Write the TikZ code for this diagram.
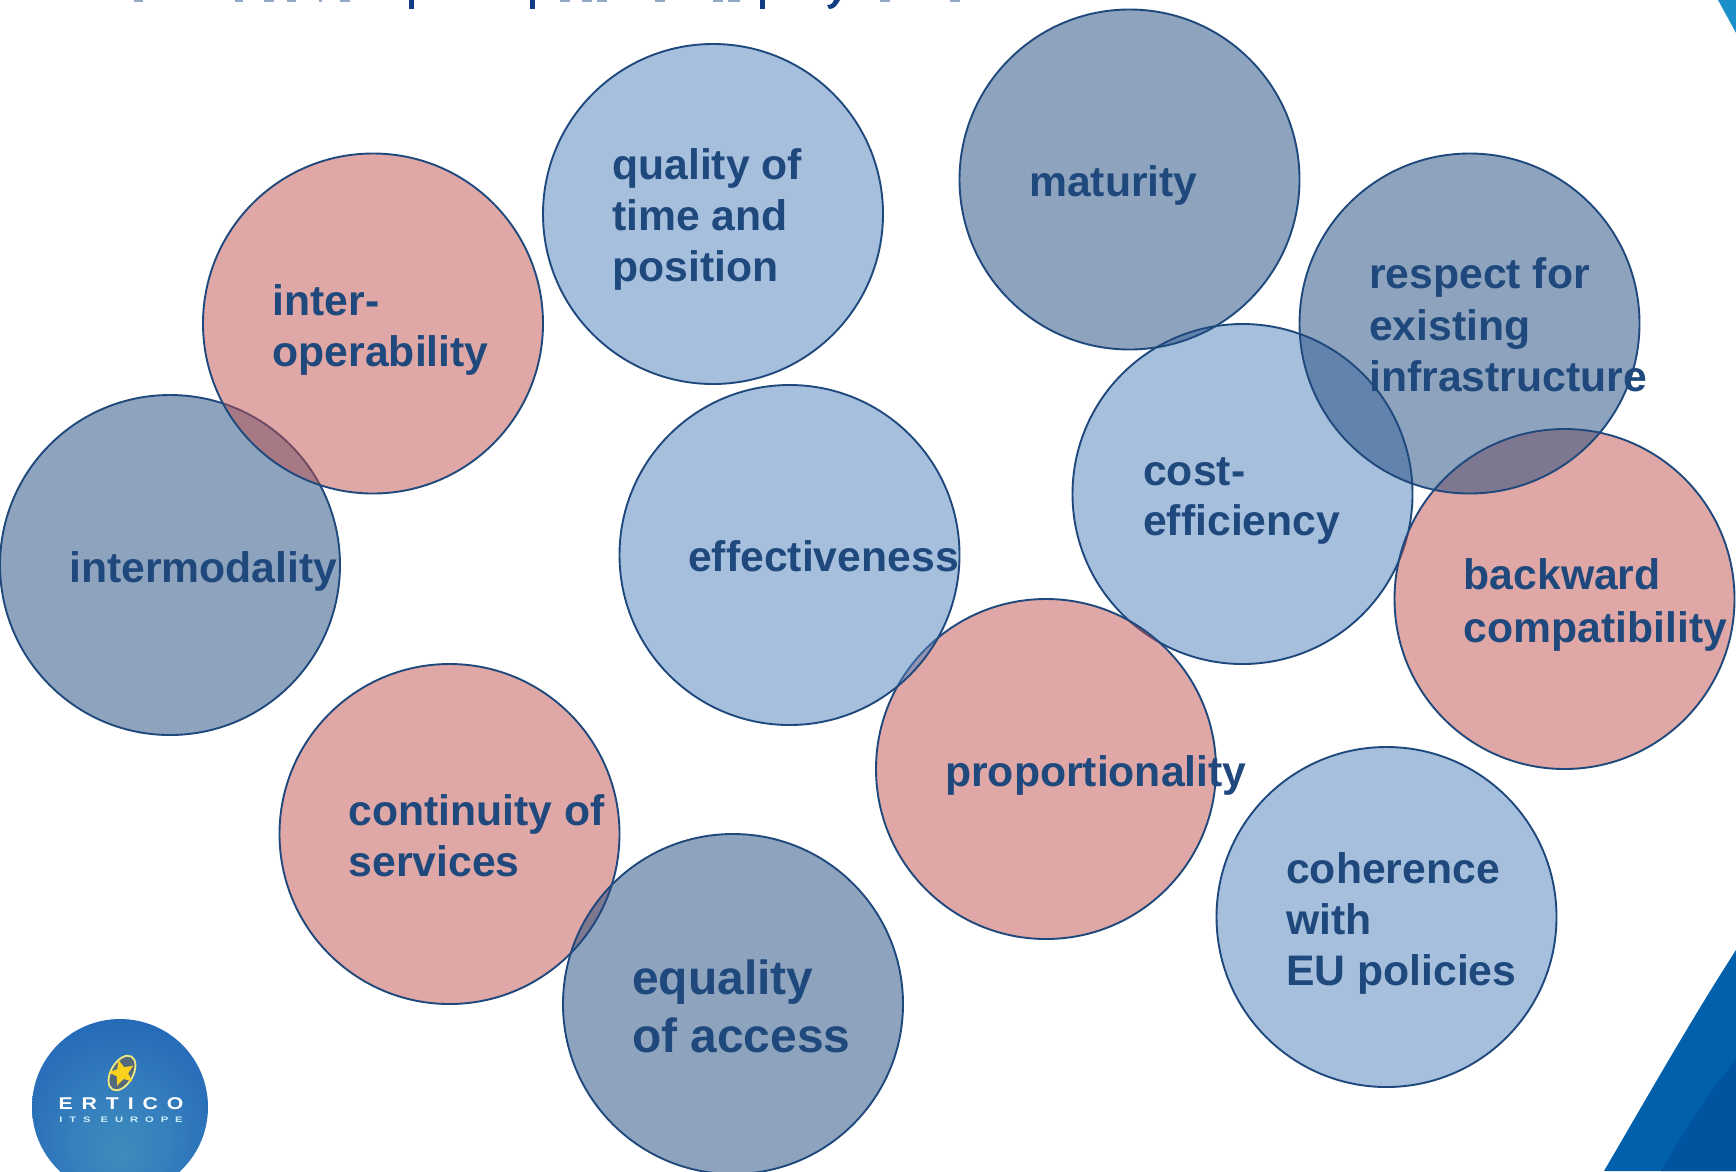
\documentclass[tikz,border=0pt]{standalone}
\usepackage{fontspec}
\setmainfont{Liberation Sans}
\newfontfamily\logofont[LetterSpace=42]{Liberation Sans}
\newfontfamily\logosmall[LetterSpace=62]{Liberation Sans}
\usetikzlibrary{shapes.geometric}
\definecolor{inkblue}{HTML}{1F497D}
\definecolor{lightfill}{HTML}{4F81BD}
\definecolor{rosefill}{HTML}{C0504D}
\definecolor{steelfill}{HTML}{1F497D}
\definecolor{cuttext}{HTML}{0F3C82}
\pgfdeclareradialshading{logoshade}{\pgfpoint{0bp}{-14bp}}{
  rgb(0bp)=(0.24,0.55,0.74);
  rgb(14bp)=(0.21,0.50,0.74);
  rgb(30bp)=(0.15,0.42,0.72);
  rgb(50bp)=(0.04,0.34,0.66)}
\tikzset{
  disc/.style={circle,draw=inkblue,line width=1.9pt,minimum size=340pt,inner sep=0pt,fill opacity=.5,draw opacity=1},
  lightdisc/.style={disc,fill=lightfill},
  rosedisc/.style={disc,fill=rosefill},
  steeldisc/.style={disc,fill=steelfill},
  lab/.style={anchor=base west,inner sep=0pt,text=inkblue,font=\fontsize{42.7}{51}\selectfont\bfseries},
  biglab/.style={lab,font=\fontsize{47.9}{58}\selectfont\bfseries},
  stub/.style={fill=cuttext},
  stubfaint/.style={fill=cuttext!45}
}
\begin{document}
\begin{tikzpicture}[x=1pt,y=-1pt]
\useasboundingbox (0,0) rectangle (1736,1171);
\clip (0,0) rectangle (1736,1171);
% slide background corners
\fill[fill=white] (0,0) rectangle (1736,1171);
\fill[fill={rgb,255:red,0;green,96;blue,172}] (1736,950) .. controls (1692,1018) and (1642,1106) .. (1604,1171) -- (1736,1171) -- cycle;
\fill[fill={rgb,255:red,0;green,83;blue,159}] (1736,1060) .. controls (1710,1090) and (1685,1130) .. (1661,1171) -- (1736,1171) -- cycle;
\fill[fill={rgb,255:red,27;green,143;blue,200}] (1718,0) -- (1736,33) -- (1736,0) -- cycle;
% cut-off title line: only the feet of its letters are in the picture
\fill[stub] (409,0) rectangle (414,9);
\fill[stub] (530,0) rectangle (535,9);
\fill[stub] (760,0) rectangle (765,9);
\fill[stub] (829,9) .. controls (835,9) and (837,5) .. (840,0) -- (834,0) .. controls (832,4) and (831,5) .. (827,5) -- cycle;
\foreach \a/\b in {134/143,235/243,264/274,287/296,319/322,340/350,560/570,582/592,597/607,655/665,713/723,728/740,880/890,950/960}
  \fill[stubfaint] (\a,0) rectangle (\b,1.8);
% discs and their labels, back to front
\node[steeldisc] (intermod) at (170,565) {};
\node[lab] (intermodT) at (69,582) {intermodality};
\node[rosedisc] (inter) at (373,323.5) {};
\node[lab] (interA) at (272.5,315) {inter-};
\node[lab] (interB) at (272.5,366) {operability};
\node[lightdisc] (quality) at (713,214) {};
\node[lab] (qualityA) at (612,179) {quality of};
\node[lab] (qualityB) at (612,230) {time and};
\node[lab] (qualityC) at (612,281) {position};
\node[rosedisc] (contin) at (449.5,834) {};
\node[lab] (continA) at (348.5,825) {continuity of};
\node[lab] (continB) at (348.5,876) {services};
\node[steeldisc] (equal) at (733,1004) {};
\node[biglab] (equalA) at (632,994) {equality};
\node[biglab] (equalB) at (632,1052) {of access};
\node[lightdisc] (cost) at (1242.5,494) {};
\node[lab] (costA) at (1143,485) {cost-};
\node[lab] (costB) at (1143,535.5) {efficiency};
\node[rosedisc] (prop) at (1046,769) {};
\node[lab] (propT) at (945,786) {proportionality};
\node[lightdisc] (effect) at (789.5,555) {};
\node[lab] (effectT) at (688,571) {effectiveness};
\node[rosedisc] (back) at (1564.5,599) {};
\node[lab] (backA) at (1463.5,589) {backward};
\node[lab] (backB) at (1463.5,642) {compatibility};
\node[steeldisc] (respect) at (1469.5,323.5) {};
\node[lab] (respectA) at (1369,288) {respect for};
\node[lab] (respectB) at (1369,340) {existing};
\node[lab] (respectC) at (1369,391) {infrastructure};
\node[steeldisc] (matur) at (1129.5,179.5) {};
\node[lab] (maturT) at (1029,196) {maturity};
\node[lightdisc] (coher) at (1386.5,917) {};
\node[lab] (coherA) at (1286,883) {coherence};
\node[lab] (coherB) at (1286,934) {with};
\node[lab] (coherC) at (1286,985) {EU policies};
% logo
\shade[shading=logoshade] (120,1107) circle[radius=88];
\node[ellipse,draw={rgb,255:red,240;green,235;blue,130},line width=1.8pt,fill={rgb,255:red,85;green,105;blue,125},minimum width=38pt,minimum height=22pt,inner sep=0pt,rotate=60] (logoring) at (122,1073) {};
\node[star,star points=5,star point ratio=2.2,fill={rgb,255:red,250;green,210;blue,30},minimum size=27pt,inner sep=0pt,rotate=15] (logostar) at (122,1073) {};
\node[inner sep=0pt,text=white,xscale=1.25,font=\logofont\fontsize{17}{17}\selectfont\bfseries] (logoname) at (121,1104) {ERTICO};
\node[inner sep=0pt,text=white!80!cyan,xscale=1.4,font=\logosmall\fontsize{8}{8}\selectfont\bfseries] (logosub) at (121,1120) {ITS EUROPE};
\end{tikzpicture}
\end{document}
